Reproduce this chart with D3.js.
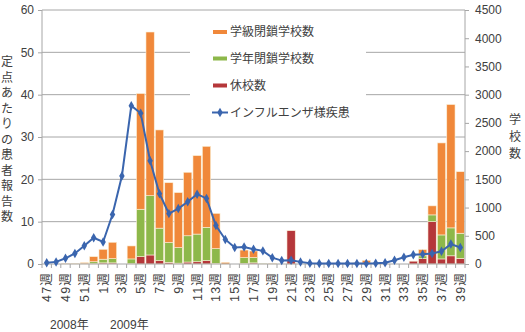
<!DOCTYPE html>
<html>
<head>
<meta charset="utf-8">
<script src="https://cdn.jsdelivr.net/npm/d3@7"></script>
<style>
  html, body { margin: 0; padding: 0; background: #fff; }
  svg { display: block; }
  text { font-family: "Liberation Sans", "Noto Sans CJK JP", sans-serif; fill: #404040; }
  .jp { font-family: "Noto Sans CJK JP", sans-serif; }
</style>
</head>
<body>
<svg id="chart" width="525" height="332"></svg>
<script>
// Weeks: 2008 week 47 through 2009 week 39
const weeks = ["47","48","49","50","51","52","1","2","3","4","5","6","7","8","9","10",
  "11","12","13","14","15","16","17","18","19","20","21","22","23","24","25","26",
  "27","28","29","30","31","32","33","34","35","36","37","38","39"];

// School closures (number of schools, right axis)
const schoolClosed = [0,0,0,0,0,5,20,20,0,5,130,160,60,30,15,35,40,60,12,0,0,12,20,0,0,0,590,
  0,0,0,0,0,0,0,0,0,0,0,0,50,95,750,90,145,100];
const gradeClosed = [0,0,0,0,5,35,65,75,0,85,840,1050,575,350,275,465,490,590,260,0,0,100,95,5,0,0,0,
  0,0,0,0,0,0,0,15,0,0,0,0,0,50,120,425,495,445];
const classClosed = [0,0,5,10,20,90,175,290,0,230,2050,2900,1740,1060,975,1125,1390,1435,625,30,0,135,115,0,10,0,0,
  0,0,0,0,0,0,20,50,0,0,0,0,0,110,160,1630,2185,1090];

// Influenza-like illness reports per sentinel site (left axis)
const iliPerSite = [0.3,0.5,1.35,2.5,4.3,6.2,5.2,11.7,20.8,37.4,35.6,24.4,16.6,11.9,13.1,14.7,
  16.5,15.5,9.1,5.8,3.9,4.0,3.5,3.1,1.5,0.8,0.9,0.5,0.2,0.1,0.1,0.1,0.1,0.1,0.1,0.15,0.3,0.9,
  1.6,2.2,2.3,2.5,3.0,4.7,3.9];

const leftTicks = [0,10,20,30,40,50,60];
const rightTicks = [0,500,1000,1500,2000,2500,3000,3500,4000,4500];
const seriesNames = ["学級閉鎖学校数","学年閉鎖学校数","休校数","インフルエンザ様疾患"];
const years = ["2008年","2009年"];

const colors = { classC: "#F0883A", gradeC: "#8DB84A", school: "#B5373A", ili: "#3A65AE" };

const svg = d3.select("#chart");
const plot = { left: 42, right: 465, top: 10, bottom: 264 };

const x = d3.scaleBand().domain(d3.range(weeks.length))
  .range([plot.left, plot.right]).paddingInner(0.12).paddingOuter(0.06);
const yL = d3.scaleLinear().domain([0, 60]).range([plot.bottom, plot.top]);
const yR = d3.scaleLinear().domain([0, 4500]).range([plot.bottom, plot.top]);
const cx = i => x(i) + x.bandwidth() / 2;

// Horizontal gridlines at the left-axis ticks
svg.append("g").selectAll("line").data(leftTicks.filter(t => t > 0)).join("line")
  .attr("x1", plot.left).attr("x2", plot.right)
  .attr("y1", d => yL(d)).attr("y2", d => yL(d))
  .attr("stroke", "#a6a6a6").attr("stroke-width", 1);

// Stacked closure bars
const rows = weeks.map((w, i) => ({ i, school: schoolClosed[i], grade: gradeClosed[i], cls: classClosed[i] }));
const stack = d3.stack().keys(["school", "grade", "cls"])(rows);
const fillFor = { school: colors.school, grade: colors.gradeC, cls: colors.classC };
svg.append("g").selectAll("g").data(stack).join("g")
  .attr("fill", d => fillFor[d.key])
  .selectAll("rect").data(d => d.filter(s => s[1] - s[0] > 0)).join("rect")
  .attr("x", d => x(d.data.i)).attr("width", x.bandwidth())
  .attr("y", d => yR(d[1])).attr("height", d => yR(d[0]) - yR(d[1]))
  .attr("stroke", "#fbf0d8").attr("stroke-width", 0.6);

// Legend panel (white background over the gridlines)
svg.append("rect").attr("x", 190).attr("y", 14).attr("width", 176).attr("height", 116).attr("fill", "#fff");
const legendY = [32, 58.5, 85.5, 112.5];
const lg = svg.append("g");
[colors.classC, colors.gradeC, colors.school].forEach((c, k) => {
  lg.append("rect").attr("x", 213).attr("y", legendY[k] - 2).attr("width", 14).attr("height", 4).attr("fill", c);
});
lg.append("line").attr("x1", 212).attr("x2", 228).attr("y1", legendY[3]).attr("y2", legendY[3])
  .attr("stroke", colors.ili).attr("stroke-width", 2);
lg.append("path").attr("d", d3.symbol(d3.symbolDiamond, 26)())
  .attr("transform", `translate(220,${legendY[3]})`).attr("fill", colors.ili);
seriesNames.forEach((s, k) => {
  lg.append("text").attr("class", "jp").attr("x", 230).attr("y", legendY[k])
    .attr("dy", "0.36em").attr("font-size", 12).text(s);
});

// Axes lines
const axisColor = "#a6a6a6";
svg.append("line").attr("x1", plot.left).attr("x2", plot.left).attr("y1", plot.top).attr("y2", plot.bottom)
  .attr("stroke", axisColor);
svg.append("line").attr("x1", plot.right).attr("x2", plot.right).attr("y1", plot.top).attr("y2", plot.bottom)
  .attr("stroke", axisColor);
svg.append("line").attr("x1", plot.left).attr("x2", plot.right).attr("y1", plot.bottom).attr("y2", plot.bottom)
  .attr("stroke", axisColor);

// Left axis
const gl = svg.append("g").attr("transform", `translate(${plot.left},0)`)
  .call(d3.axisLeft(yL).tickValues(leftTicks).tickFormat(d3.format("d")).tickSize(4).tickPadding(4));
// Right axis
const gr = svg.append("g").attr("transform", `translate(${plot.right},0)`)
  .call(d3.axisRight(yR).tickValues(rightTicks).tickFormat(d3.format("d")).tickSize(4).tickPadding(6));
[gl, gr].forEach(g => {
  g.select(".domain").remove();
  g.selectAll(".tick line").attr("stroke", axisColor);
  g.selectAll(".tick text").attr("font-size", 12).attr("fill", "#404040")
    .attr("font-family", "Liberation Sans, sans-serif");
});

// Category tick marks between weeks
const bounds = d3.range(weeks.length + 1).map(i => plot.left + i * x.step());
svg.append("g").selectAll("line").data(bounds).join("line")
  .attr("x1", d => d).attr("x2", d => d).attr("y1", plot.bottom).attr("y2", plot.bottom + 4)
  .attr("stroke", axisColor);

// Week labels (every other week), rotated
svg.append("g").selectAll("text").data(weeks.map((w, i) => ({ w, i })).filter(d => d.i % 2 === 0)).join("text")
  .attr("transform", d => `translate(${cx(d.i)},272) rotate(-90)`)
  .attr("text-anchor", "end").attr("dy", "0.36em").attr("font-size", 12.5)
  .attr("letter-spacing", 1.2)
  .text(d => d.w + "週");

// Year labels
svg.append("text").attr("x", 50).attr("y", 329).attr("font-size", 12).text(years[0]);
svg.append("text").attr("x", 110).attr("y", 329).attr("font-size", 12).text(years[1]);

// ILI line with diamond markers
svg.append("path").datum(iliPerSite)
  .attr("fill", "none").attr("stroke", colors.ili).attr("stroke-width", 2)
  .attr("d", d3.line().x((d, i) => cx(i)).y(d => yL(d)));
svg.append("g").selectAll("path").data(iliPerSite).join("path")
  .attr("d", d3.symbol(d3.symbolDiamond, 26)())
  .attr("transform", (d, i) => `translate(${cx(i)},${yL(d)})`)
  .attr("fill", colors.ili);

// Axis titles, stacked vertically one character per line
const leftTitle = "定点あたりの患者報告数";
svg.append("g").selectAll("text").data(Array.from(leftTitle)).join("text")
  .attr("class", "jp").attr("x", 7).attr("y", (d, k) => 62 + k * 15.5)
  .attr("text-anchor", "middle").attr("dy", "0.36em").attr("font-size", 12).text(d => d);
const rightTitle = "学校数";
svg.append("g").selectAll("text").data(Array.from(rightTitle)).join("text")
  .attr("class", "jp").attr("x", 515).attr("y", (d, k) => 120 + k * 16.7)
  .attr("text-anchor", "middle").attr("dy", "0.36em").attr("font-size", 12).text(d => d);
</script>
</body>
</html>
